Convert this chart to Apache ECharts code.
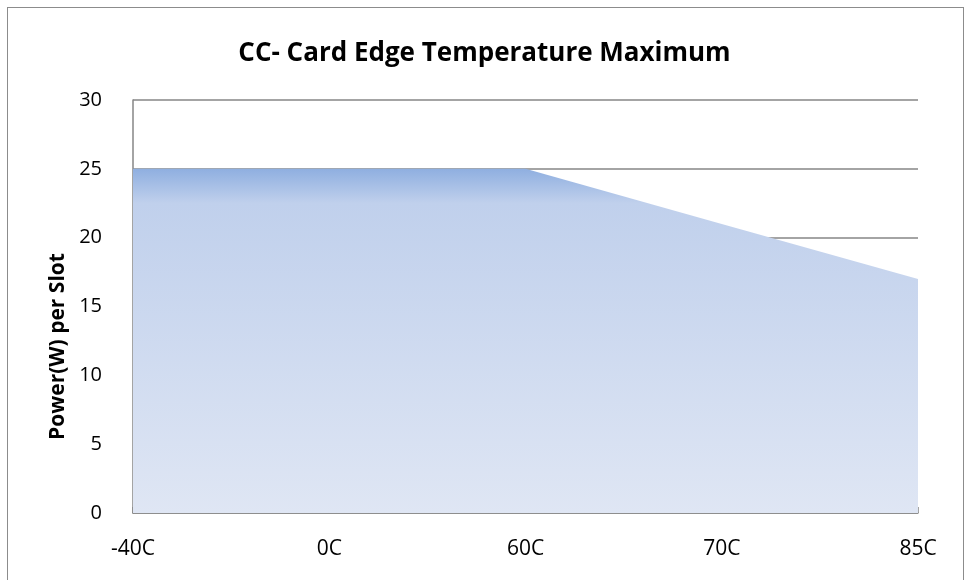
<!DOCTYPE html>
<html>
<head>
<meta charset="utf-8">
<script src="https://cdn.jsdelivr.net/npm/echarts@6/dist/echarts.min.js"></script>
<style>
  html, body { margin: 0; padding: 0; background: #fff; }
  #frame {
    position: absolute; left: 7px; top: 7px; width: 957px; height: 600px;
    border: 1.5px solid #8c8c8c; box-sizing: border-box;
  }
  #main { position: absolute; left: 0; top: 0; width: 969px; height: 580px; }
</style>
</head>
<body>
<div id="frame"></div>
<div id="main"></div>
<script>
  // temperatures along the bottom
  var categories = ['-40C', '0C', '60C', '70C', '85C']
  // max power per slot
  var powerValues = [25, 25, 25, 21, 17]
  var yTicks = { min: 0, max: 30, step: 5 }

  var myChart = echarts.init(document.getElementById('main'))
  var font = '"Open Sans", "Noto Sans", sans-serif'
  var option = {
    title: {
      text: 'CC- Card Edge Temperature Maximum',
      left: 'center',
      top: 36,
      textStyle: { fontFamily: font, fontSize: 26, fontWeight: 'bold', color: '#000' },
    },
    grid: { left: 133, right: 51, top: 100, bottom: 67 },
    xAxis: {
      type: 'category',
      data: categories,
      boundaryGap: false,
      axisLine: { lineStyle: { color: '#868686', width: 1.5 } },
      axisTick: { inside: true, length: 6, lineStyle: { color: '#868686', width: 1.5 } },
      axisLabel: { color: '#000', fontFamily: font, fontSize: 21, margin: 26 },
      splitLine: { show: false },
    },
    yAxis: {
      type: 'value',
      min: yTicks.min,
      max: yTicks.max,
      interval: yTicks.step,
      name: 'Power(W) per Slot',
      nameLocation: 'middle',
      nameGap: 60,
      nameTextStyle: {
        fontFamily: font, fontSize: 21, fontWeight: 'bold', color: '#000',
        padding: [0, 80, 0, 0],
      },
      axisLine: { show: true, lineStyle: { color: '#868686', width: 1.5 } },
      axisTick: { show: false },
      axisLabel: { color: '#000', fontFamily: font, fontSize: 20, margin: 31 },
      splitLine: { lineStyle: { color: '#868686', width: 1.5 } },
    },
    series: [
      {
        type: 'line',
        data: powerValues,
        symbol: 'none',
        lineStyle: { width: 0 },
        areaStyle: {
          opacity: 1,
          color: new echarts.graphic.LinearGradient(0, 0, 0, 1, [
            { offset: 0, color: '#8fafe0' },
            { offset: 0.1, color: '#c0d0ec' },
            { offset: 1, color: '#dfe6f4' },
          ]),
        },
      },
    ],
  }
  myChart.setOption(option)
</script>
</body>
</html>
